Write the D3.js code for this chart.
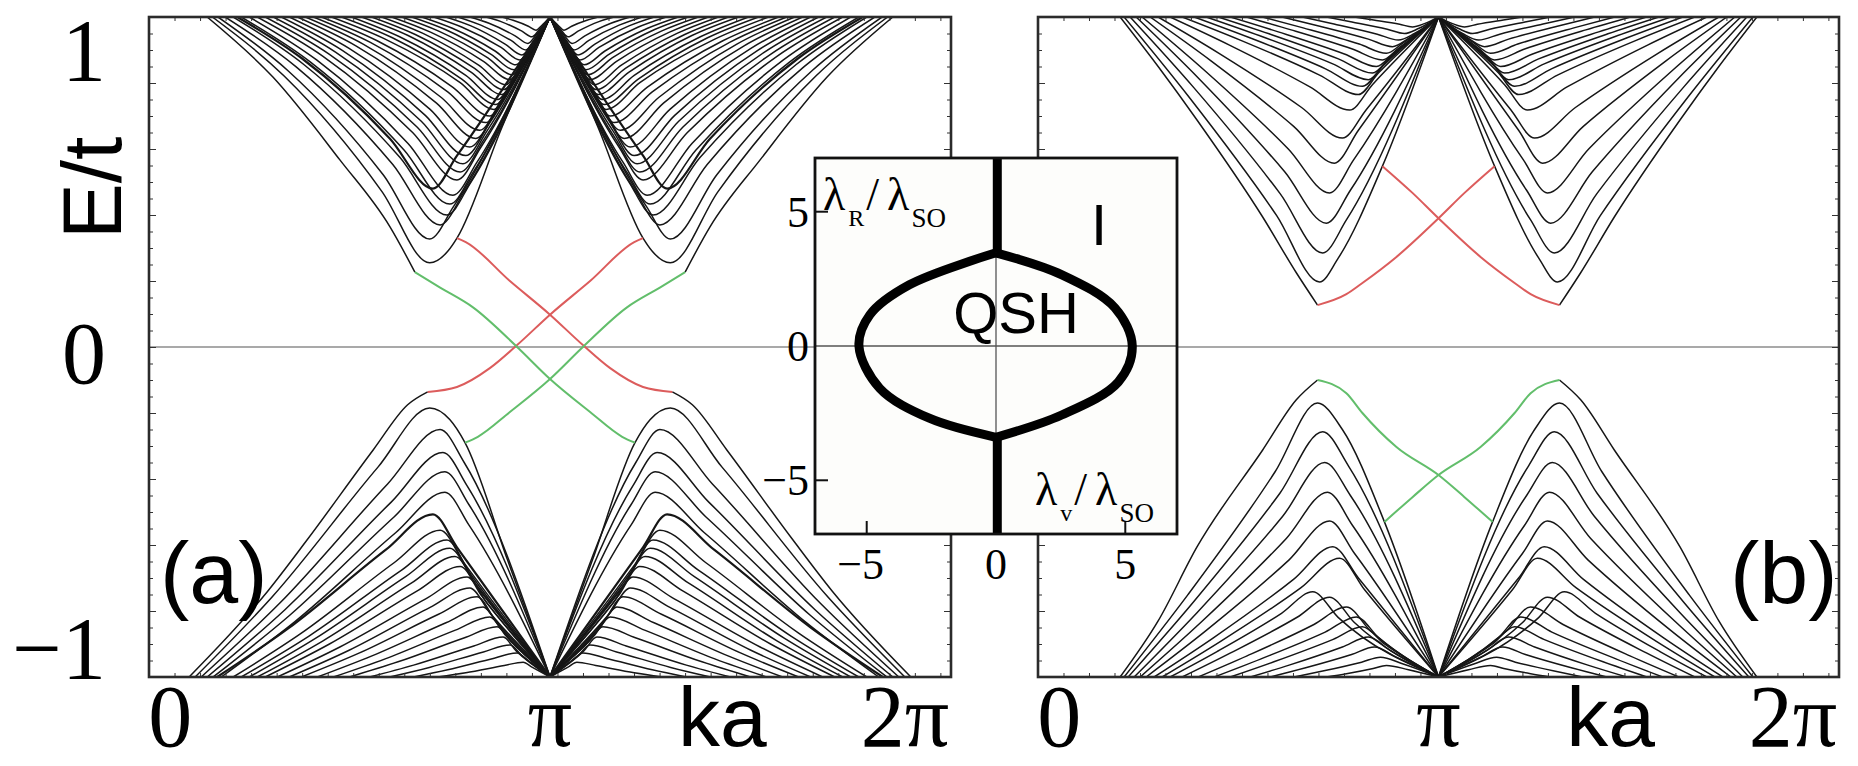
<!DOCTYPE html>
<html>
<head>
<meta charset="utf-8">
<script src="https://cdn.jsdelivr.net/npm/d3@7"></script>
<style>body{margin:0;background:#fff}</style>
</head>
<body>
<svg id="fig" width="1858" height="766"></svg>
<script>
// band branches for the left half, k in units of pi, E in units of t
// (the right half is the mirror image k -> 2 - k)
const aUp = [
  [[0.145,1],[0.309,0.818],[0.476,0.567],[0.601,0.364],[0.663,0.227]],
  [[0.158,1],[0.337,0.821],[0.581,0.471],[0.70,0.255],[0.745,0.29],[0.768,0.33],[0.88,0.665],[1,1]],
  [[0.172,1],[0.346,0.838],[0.584,0.522],[0.70,0.327],[0.76,0.427],[1,1]],
  [[0.19,1],[0.367,0.849],[0.608,0.553],[0.726,0.37],[0.786,0.47],[1,1]],
  [[0.21,1],[0.386,0.856],[0.626,0.574],[0.743,0.40],[0.803,0.50],[1,1]],
  [[0.23,1],[0.402,0.864],[0.636,0.597],[0.75,0.433],[0.81,0.533],[1,1]],
  [[0.25,1],[0.418,0.87],[0.646,0.617],[0.758,0.46],[0.818,0.56],[1,1]],
  [[0.27,1],[0.434,0.881],[0.658,0.649],[0.768,0.506],[0.828,0.606],[1,1]],
  [[0.29,1],[0.45,0.887],[0.669,0.666],[0.776,0.53],[0.836,0.63],[1,1]],
  [[0.31,1],[0.466,0.893],[0.679,0.684],[0.783,0.555],[0.843,0.655],[1,1]],
  [[0.33,1],[0.482,0.899],[0.689,0.702],[0.79,0.58],[0.85,0.68],[1,1]],
  [[0.35,1],[0.499,0.905],[0.701,0.72],[0.80,0.606],[0.86,0.706],[1,1]],
  [[0.37,1],[0.517,0.912],[0.717,0.739],[0.815,0.632],[0.87,0.725],[1,1]],
  [[0.39,1],[0.534,0.918],[0.729,0.756],[0.825,0.657],[0.877,0.745],[1,1]],
  [[0.41,1],[0.552,0.923],[0.745,0.773],[0.84,0.68],[0.888,0.765],[1,1]],
  [[0.43,1],[0.569,0.928],[0.758,0.787],[0.85,0.70],[0.895,0.78],[1,1]],
  [[0.455,1],[0.589,0.933],[0.776,0.801],[0.86,0.72],[0.902,0.795],[1,1]],
  [[0.48,1],[0.607,0.937],[0.78,0.812],[0.865,0.735],[0.906,0.805],[1,1]],
  [[0.505,1],[0.625,0.94],[0.79,0.823],[0.87,0.75],[0.91,0.815],[1,1]],
  [[0.53,1],[0.646,0.944],[0.803,0.833],[0.88,0.765],[0.918,0.828],[1,1]],
  [[0.555,1],[0.664,0.947],[0.812,0.844],[0.885,0.78],[0.922,0.84],[1,1]],
  [[0.58,1],[0.682,0.951],[0.822,0.854],[0.89,0.795],[0.926,0.852],[1,1]],
  [[0.605,1],[0.702,0.954],[0.835,0.865],[0.90,0.81],[0.932,0.862],[1,1]],
  [[0.63,1],[0.721,0.958],[0.845,0.876],[0.905,0.825],[0.936,0.875],[1,1]],
  [[0.655,1],[0.739,0.962],[0.854,0.886],[0.91,0.84],[0.94,0.885],[1,1]],
  [[0.68,1],[0.758,0.965],[0.863,0.897],[0.915,0.855],[0.944,0.897],[1,1]],
  [[0.71,1],[0.781,0.969],[0.878,0.908],[0.925,0.87],[0.95,0.905],[1,1]],
  [[0.74,1],[0.803,0.973],[0.888,0.918],[0.93,0.885],[0.954,0.918],[1,1]],
  [[0.77,1],[0.826,0.976],[0.903,0.929],[0.94,0.90],[0.96,0.93],[1,1]],
  [[0.80,1],[0.848,0.981],[0.913,0.943],[0.945,0.92],[0.965,0.945],[1,1]],
  [[0.84,1],[0.878,0.986],[0.93,0.957],[0.955,0.94],[0.972,0.96],[1,1]],
  [[0.88,1],[0.908,0.99],[0.946,0.972],[0.965,0.96],[0.98,0.975],[1,1]]
];
const aUpThick = [
  [[0.22,1],[0.381,0.875],[0.601,0.631],[0.708,0.48],[0.768,0.58],[1,1]]
];
const aDn = [
  [[0.10,-1],[0.296,-0.74],[0.394,-0.585],[0.559,-0.312],[0.645,-0.175],[0.695,-0.136]],
  [[0.115,-1],[0.308,-0.756],[0.571,-0.364],[0.70,-0.185],[0.75,-0.22],[0.788,-0.29],[0.894,-0.645],[1,-1]],
  [[0.13,-1],[0.327,-0.775],[0.595,-0.415],[0.726,-0.25],[0.786,-0.35],[1,-1]],
  [[0.145,-1],[0.339,-0.796],[0.604,-0.47],[0.733,-0.32],[0.793,-0.42],[1,-1]],
  [[0.16,-1],[0.351,-0.813],[0.611,-0.515],[0.738,-0.378],[0.798,-0.478],[1,-1]],
  [[0.18,-1],[0.364,-0.832],[0.615,-0.563],[0.738,-0.44],[0.798,-0.54],[1,-1]],
  [[0.21,-1],[0.38,-0.867],[0.612,-0.653],[0.726,-0.555],[0.786,-0.655],[1,-1]],
  [[0.23,-1],[0.399,-0.876],[0.63,-0.676],[0.743,-0.585],[0.80,-0.685],[1,-1]],
  [[0.25,-1],[0.415,-0.883],[0.64,-0.696],[0.75,-0.61],[0.81,-0.71],[1,-1]],
  [[0.27,-1],[0.433,-0.891],[0.655,-0.715],[0.763,-0.635],[0.82,-0.73],[1,-1]],
  [[0.29,-1],[0.45,-0.90],[0.669,-0.739],[0.776,-0.665],[0.83,-0.755],[1,-1]],
  [[0.32,-1],[0.476,-0.909],[0.689,-0.764],[0.793,-0.697],[0.845,-0.78],[1,-1]],
  [[0.35,-1],[0.499,-0.919],[0.701,-0.789],[0.80,-0.73],[0.85,-0.805],[1,-1]],
  [[0.38,-1],[0.525,-0.927],[0.722,-0.81],[0.818,-0.757],[0.865,-0.83],[1,-1]],
  [[0.42,-1],[0.556,-0.936],[0.742,-0.835],[0.833,-0.788],[0.875,-0.85],[1,-1]],
  [[0.46,-1],[0.589,-0.945],[0.764,-0.858],[0.85,-0.818],[0.89,-0.875],[1,-1]],
  [[0.50,-1],[0.621,-0.954],[0.787,-0.881],[0.868,-0.848],[0.905,-0.895],[1,-1]],
  [[0.55,-1],[0.66,-0.964],[0.81,-0.906],[0.883,-0.879],[0.915,-0.92],[1,-1]],
  [[0.60,-1],[0.699,-0.971],[0.834,-0.924],[0.90,-0.903],[0.93,-0.935],[1,-1]],
  [[0.66,-1],[0.745,-0.978],[0.861,-0.943],[0.918,-0.927],[0.945,-0.95],[1,-1]],
  [[0.72,-1],[0.79,-0.987],[0.886,-0.965],[0.933,-0.955],[0.955,-0.97],[1,-1]]
];
const aDnThick = [
  [[0.17,-1],[0.348,-0.852],[0.59,-0.615],[0.708,-0.507],[0.768,-0.607],[1,-1]]
];
const bUp = [
  [[0.205,1],[0.30,0.85],[0.397,0.688],[0.561,0.394],[0.645,0.225],[0.698,0.127]],
  [[0.215,1],[0.376,0.759],[0.596,0.398],[0.703,0.197],[0.75,0.27],[0.86,0.548],[1,1]],
  [[0.23,1],[0.389,0.786],[0.605,0.464],[0.711,0.285],[0.77,0.385],[1,1]],
  [[0.245,1],[0.402,0.813],[0.616,0.531],[0.72,0.375],[0.78,0.475],[1,1]],
  [[0.26,1],[0.414,0.84],[0.625,0.60],[0.728,0.467],[0.788,0.567],[1,1]],
  [[0.28,1],[0.432,0.867],[0.639,0.668],[0.74,0.557],[0.80,0.657],[1,1]],
  [[0.30,1],[0.452,0.89],[0.659,0.725],[0.76,0.633],[0.82,0.72],[1,1]],
  [[0.33,1],[0.478,0.915],[0.679,0.788],[0.778,0.718],[0.835,0.795],[1,1]],
  [[0.36,1],[0.505,0.93],[0.703,0.824],[0.80,0.765],[0.85,0.83],[1,1]],
  [[0.39,1],[0.529,0.937],[0.718,0.843],[0.81,0.79],[0.86,0.85],[1,1]],
  [[0.42,1],[0.554,0.943],[0.736,0.858],[0.825,0.81],[0.87,0.865],[1,1]],
  [[0.45,1],[0.577,0.949],[0.75,0.873],[0.835,0.83],[0.88,0.88],[1,1]],
  [[0.48,1],[0.60,0.955],[0.765,0.888],[0.845,0.85],[0.89,0.893],[1,1]],
  [[0.52,1],[0.632,0.961],[0.785,0.903],[0.86,0.87],[0.90,0.905],[1,1]],
  [[0.56,1],[0.662,0.967],[0.802,0.918],[0.87,0.89],[0.91,0.92],[1,1]],
  [[0.61,1],[0.701,0.973],[0.825,0.933],[0.885,0.91],[0.925,0.935],[1,1]],
  [[0.66,1],[0.739,0.979],[0.847,0.948],[0.90,0.93],[0.94,0.95],[1,1]],
  [[0.72,1],[0.784,0.985],[0.872,0.963],[0.915,0.95],[0.95,0.965],[1,1]],
  [[0.79,1],[0.838,0.991],[0.903,0.978],[0.935,0.97],[0.965,0.98],[1,1]]
];
const bDn = [
  [[0.205,-1],[0.30,-0.83],[0.397,-0.606],[0.561,-0.312],[0.645,-0.16],[0.698,-0.10]],
  [[0.215,-1],[0.374,-0.751],[0.592,-0.378],[0.698,-0.17],[0.76,-0.25],[0.865,-0.53],[1,-1]],
  [[0.225,-1],[0.385,-0.777],[0.604,-0.443],[0.711,-0.257],[0.775,-0.36],[1,-1]],
  [[0.24,-1],[0.397,-0.805],[0.611,-0.513],[0.716,-0.35],[0.78,-0.45],[1,-1]],
  [[0.255,-1],[0.409,-0.832],[0.62,-0.58],[0.723,-0.44],[0.785,-0.54],[1,-1]],
  [[0.27,-1],[0.421,-0.858],[0.627,-0.645],[0.728,-0.527],[0.79,-0.625],[1,-1]],
  [[0.29,-1],[0.437,-0.882],[0.638,-0.704],[0.736,-0.605],[0.80,-0.70],[1,-1]],
  [[0.31,-1],[0.456,-0.892],[0.656,-0.73],[0.753,-0.64],[0.815,-0.735],[1,-1]],
  [[0.33,-1],[0.447,-0.923],[0.608,-0.807],[0.686,-0.742],[0.75,-0.82],[1,-1]],
  [[0.36,-1],[0.481,-0.927],[0.647,-0.819],[0.728,-0.758],[0.79,-0.835],[1,-1]],
  [[0.40,-1],[0.522,-0.936],[0.689,-0.841],[0.77,-0.788],[0.83,-0.86],[1,-1]],
  [[0.44,-1],[0.557,-0.945],[0.717,-0.864],[0.795,-0.818],[0.85,-0.88],[1,-1]],
  [[0.48,-1],[0.589,-0.954],[0.737,-0.886],[0.81,-0.848],[0.865,-0.90],[1,-1]],
  [[0.53,-1],[0.627,-0.964],[0.76,-0.909],[0.825,-0.879],[0.88,-0.92],[1,-1]],
  [[0.58,-1],[0.666,-0.973],[0.783,-0.932],[0.84,-0.909],[0.895,-0.94],[1,-1]],
  [[0.64,-1],[0.711,-0.982],[0.808,-0.955],[0.855,-0.94],[0.91,-0.96],[1,-1]],
  [[0.72,-1],[0.77,-0.99],[0.837,-0.974],[0.87,-0.965],[0.925,-0.978],[1,-1]]
];

// edge states (one of each pair; the partner is its mirror image)
const aRed   = [[0.695,-0.136],[0.768,-0.121],[0.85,-0.064],[0.918,0.006],[1.0,0.098],[1.1,0.2],[1.21,0.318],[1.232,0.33]];
const aGreen = [[0.663,0.227],[0.726,0.18],[0.808,0.12],[0.918,0.0],[1.0,-0.097],[1.1,-0.197],[1.18,-0.272],[1.212,-0.29]];
const bRed   = [[0.698,0.127],[0.77,0.16],[0.81,0.194],[0.895,0.273],[1.0,0.39],[1.065,0.467],[1.14,0.548]];
const bGreen = [[0.698,-0.10],[0.77,-0.14],[0.81,-0.20],[0.895,-0.303],[1.0,-0.388],[1.065,-0.455],[1.135,-0.53]];

// axis labels
const yLabelVals = [1, 0, -1];
const yLabelText = ["1", "0", "\u22121"];
const yLabelDrop = [63, 36, 1];
const xLabelK = [0.053, 1, 1.885];
const xLabelText = ["0", "\u03c0", "2\u03c0"];

// inset: phase diagram, lambda_v/lambda_SO vs lambda_R/lambda_SO
const lensRight = [[0,3.47],[2.55,2.65],[4.6,1.42],[5.27,0],[4.73,-1.34],[2.54,-2.57],[0,-3.4]];
const lensLeft  = [[0,3.47],[-3.35,2.28],[-4.88,1.16],[-5.3,0],[-4.5,-1.57],[-2.58,-2.69],[0,-3.4]];
const stemTop = [[0.05,3.47],[0.05,7]];
const stemBot = [[0.05,-3.4],[0.05,-7]];
const insetTicks = [-5, 5];
const insetLabelVals = [5, 0, -5];
const insetLabelText = ["5", "0", "\u22125"];

const svg = d3.select("#fig");
svg.append("rect").attr("width", 1858).attr("height", 766).attr("fill", "#fff");

const yTop = 17, yBot = 677;
const serif = "'Liberation Serif', 'DejaVu Serif', serif";
const sans = "'Liberation Sans', Arial, sans-serif";
const mirror = pts => pts.map(d => [2 - d[0], d[1]]).reverse();

const panels = [
  {id: "a", x0: 149, x1: 951, up: aUp, dn: aDn, thick: aUpThick.concat(aDnThick), red: aRed, green: aGreen, tag: "(a)", tagX: 160},
  {id: "b", x0: 1038, x1: 1839, up: bUp, dn: bDn, thick: [], red: bRed, green: bGreen, tag: "(b)", tagX: 1730}
];

panels.forEach(p => {
  const x = d3.scaleLinear().domain([0, 2]).range([p.x0, p.x1]);
  const xr = d3.scaleLinear().domain([0, 2 * Math.PI]).range([p.x0, p.x1]);
  const y = d3.scaleLinear().domain([-1, 1]).range([yBot, yTop]);
  const g = svg.append("g");

  g.append("clipPath").attr("id", "clip-" + p.id)
    .append("rect").attr("x", p.x0).attr("y", yTop)
    .attr("width", p.x1 - p.x0).attr("height", yBot - yTop);
  const body = g.append("g").attr("clip-path", `url(#clip-${p.id})`);

  body.append("line")
    .attr("x1", x(0)).attr("x2", x(2)).attr("y1", y(0)).attr("y2", y(0))
    .attr("stroke", "#8c8c8c").attr("stroke-width", 1.6);

  const line = d3.line().x(d => x(d[0])).y(d => y(d[1])).curve(d3.curveMonotoneX);
  const both = arr => arr.flatMap(b => [b, mirror(b)]);

  body.selectAll("path.band").data(both(p.up.concat(p.dn))).join("path")
    .attr("class", "band").attr("d", line)
    .attr("fill", "none").attr("stroke", "#161616").attr("stroke-width", 1.5);
  body.selectAll("path.thick").data(both(p.thick)).join("path")
    .attr("class", "thick").attr("d", line)
    .attr("fill", "none").attr("stroke", "#161616").attr("stroke-width", 2.2);
  body.selectAll("path.red").data(both([p.red])).join("path")
    .attr("class", "red").attr("d", line)
    .attr("fill", "none").attr("stroke", "#dc5c5c").attr("stroke-width", 2);
  body.selectAll("path.green").data(both([p.green])).join("path")
    .attr("class", "green").attr("d", line)
    .attr("fill", "none").attr("stroke", "#62be6b").attr("stroke-width", 2);

  // inward ticks on all four sides
  const tickG = (axis, tx, ty) => g.append("g")
    .attr("transform", `translate(${tx},${ty})`)
    .attr("color", "#333")
    .call(axis)
    .call(s => s.select(".domain").remove());
  tickG(d3.axisLeft(y).tickValues(y.ticks(40)).tickSize(-4).tickFormat(""), p.x0, 0);
  tickG(d3.axisLeft(y).tickValues(y.ticks(8)).tickSize(-7).tickFormat(""), p.x0, 0);
  tickG(d3.axisRight(y).tickValues(y.ticks(40)).tickSize(-4).tickFormat(""), p.x1, 0);
  tickG(d3.axisRight(y).tickValues(y.ticks(8)).tickSize(-7).tickFormat(""), p.x1, 0);
  tickG(d3.axisBottom(xr).tickValues(xr.ticks(30)).tickSize(-4).tickFormat(""), 0, yBot);
  tickG(d3.axisTop(xr).tickValues(xr.ticks(30)).tickSize(-4).tickFormat(""), 0, yTop);

  g.append("rect")
    .attr("x", p.x0).attr("y", yTop).attr("width", p.x1 - p.x0).attr("height", yBot - yTop)
    .attr("fill", "none").attr("stroke", "#2b2b2b").attr("stroke-width", 2.6);

  g.selectAll("text.xl").data(xLabelK).join("text")
    .attr("class", "xl")
    .attr("x", d => x(d)).attr("y", 746)
    .attr("text-anchor", "middle")
    .attr("font-family", serif).attr("font-size", 88)
    .text((d, i) => xLabelText[i]);
  g.append("text")
    .attr("x", x(1.43)).attr("y", 746).attr("text-anchor", "middle")
    .attr("font-family", sans).attr("font-size", 84).text("ka");
  g.append("text")
    .attr("x", p.tagX).attr("y", 603)
    .attr("font-family", sans).attr("font-size", 88).text(p.tag);

  if (p.id === "a") {
    g.selectAll("text.yl").data(yLabelVals).join("text")
      .attr("class", "yl")
      .attr("x", 106).attr("y", (d, i) => y(d) + yLabelDrop[i])
      .attr("text-anchor", "end")
      .attr("font-family", serif).attr("font-size", 88)
      .text((d, i) => yLabelText[i]);
    g.append("text")
      .attr("transform", "translate(121,188) rotate(-90)")
      .attr("text-anchor", "middle")
      .attr("font-family", sans).attr("font-size", 84).text("E/t");
  }
});

// inset
const ix = d3.scaleLinear().domain([-7, 7]).range([815, 1177]);
const iy = d3.scaleLinear().domain([-7, 7]).range([534, 158]);
const ins = svg.append("g");
ins.append("rect")
  .attr("x", ix(-7)).attr("y", iy(7)).attr("width", ix(7) - ix(-7)).attr("height", iy(-7) - iy(7))
  .attr("fill", "#fdfdfb");
ins.append("line").attr("x1", ix(-7)).attr("x2", ix(7)).attr("y1", iy(0)).attr("y2", iy(0))
  .attr("stroke", "#555").attr("stroke-width", 1.3);
ins.append("line").attr("x1", ix(0)).attr("x2", ix(0)).attr("y1", iy(-7)).attr("y2", iy(7))
  .attr("stroke", "#555").attr("stroke-width", 1.3);
ins.selectAll("line.ty").data(insetTicks).join("line").attr("class", "ty")
  .attr("x1", ix(-7)).attr("x2", ix(-7) + 13).attr("y1", d => iy(d)).attr("y2", d => iy(d))
  .attr("stroke", "#111").attr("stroke-width", 2);
ins.selectAll("line.tx").data(insetTicks).join("line").attr("class", "tx")
  .attr("x1", d => ix(d)).attr("x2", d => ix(d)).attr("y1", iy(-7)).attr("y2", iy(-7) - 13)
  .attr("stroke", "#111").attr("stroke-width", 2);

const iline = d3.line().x(d => ix(d[0])).y(d => iy(d[1]));
ins.selectAll("path.lens").data([lensRight, lensLeft]).join("path").attr("class", "lens")
  .attr("d", iline.curve(d3.curveCatmullRom))
  .attr("fill", "none").attr("stroke", "#000").attr("stroke-width", 9).attr("stroke-linejoin", "round");
ins.selectAll("path.stem").data([stemTop, stemBot]).join("path").attr("class", "stem")
  .attr("d", d3.line().x(d => ix(d[0])).y(d => iy(d[1])))
  .attr("fill", "none").attr("stroke", "#000").attr("stroke-width", 9);

ins.append("rect")
  .attr("x", ix(-7)).attr("y", iy(7)).attr("width", ix(7) - ix(-7)).attr("height", iy(-7) - iy(7))
  .attr("fill", "none").attr("stroke", "#111").attr("stroke-width", 2.8);

ins.selectAll("text.iyl").data(insetLabelVals).join("text").attr("class", "iyl")
  .attr("x", 809).attr("y", d => iy(d) + 15).attr("text-anchor", "end")
  .attr("font-family", serif).attr("font-size", 44)
  .text((d, i) => insetLabelText[i]);
ins.selectAll("text.ixl").data(insetLabelVals).join("text").attr("class", "ixl")
  .attr("x", d => ix(d) - (d < 0 ? 6 : 0)).attr("y", 579).attr("text-anchor", "middle")
  .attr("font-family", serif).attr("font-size", 44)
  .text((d, i) => insetLabelText[i]);

ins.append("text").attr("x", 1016).attr("y", 333).attr("text-anchor", "middle")
  .attr("font-family", sans).attr("font-size", 58).text("QSH");
ins.append("text").attr("x", 1099).attr("y", 245).attr("text-anchor", "middle")
  .attr("font-family", sans).attr("font-size", 58).text("I");

function ratioLabel(x0, y0, sub) {
  const t = ins.append("text").attr("x", x0).attr("y", y0)
    .attr("font-family", serif).attr("font-size", 46);
  t.append("tspan").text("\u03bb");
  t.append("tspan").attr("font-size", 24).attr("dx", 3).attr("dy", 16).text(sub);
  t.append("tspan").attr("dx", 2).attr("dy", -16).text("/");
  t.append("tspan").attr("dx", 8).text("\u03bb");
  t.append("tspan").attr("font-size", 27).attr("dx", 2).attr("dy", 17).text("SO");
}
ratioLabel(823, 210, "R");
ratioLabel(1035, 505, "v");
</script>
</body>
</html>
